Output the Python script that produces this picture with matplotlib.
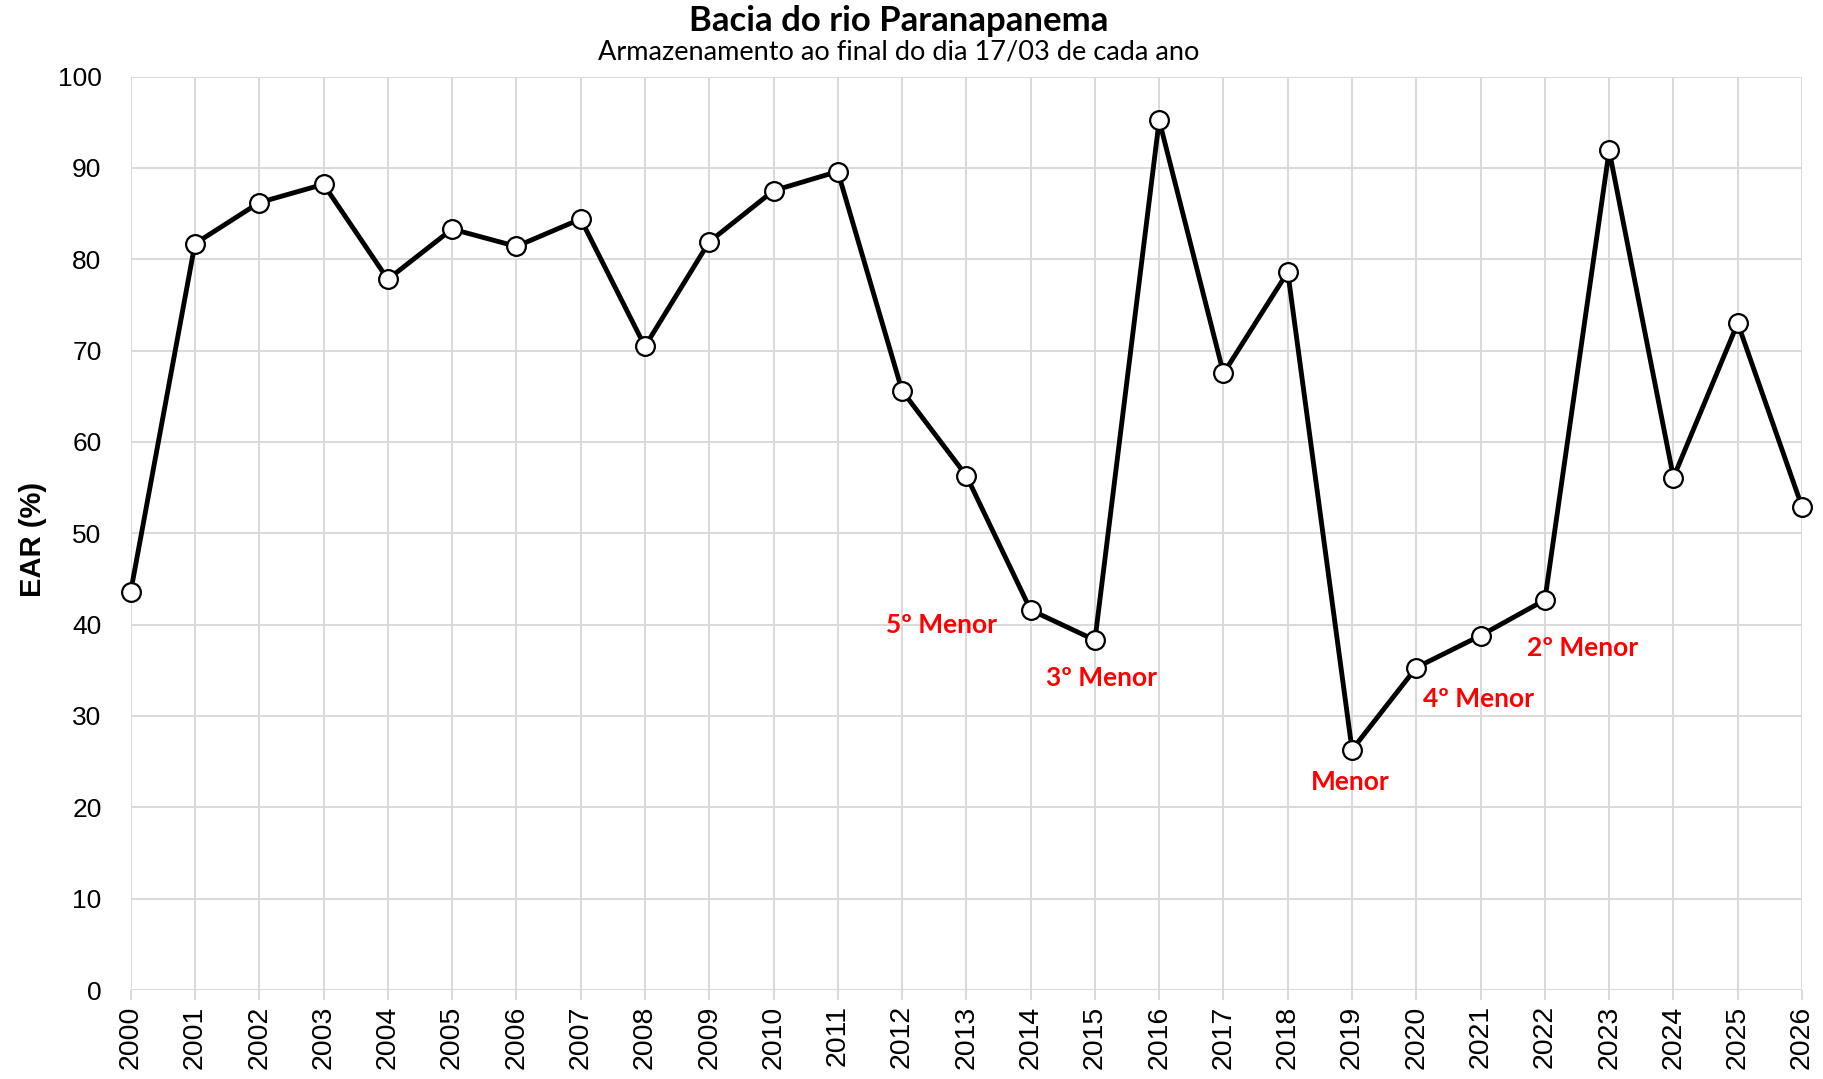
import matplotlib
matplotlib.use("Agg")
import matplotlib.pyplot as plt

years = list(range(2000, 2027))
ear = [43.6, 81.7, 86.2, 88.2, 77.8, 83.3, 81.4, 84.4, 70.45, 81.9, 87.5, 89.6,
       65.6, 56.3, 41.6, 38.3, 95.2, 67.5, 78.6, 26.3, 35.3, 38.8, 42.7, 91.9,
       56.1, 73.0, 52.9]

ann_text = ["5º Menor", "3º Menor", "Menor", "4º Menor", "2º Menor"]
ann_x = [2012.62, 2015.1, 2018.98, 2020.96, 2022.58]
ann_y = [40.0, 34.1, 22.8, 31.9, 37.4]

title = "Bacia do rio Paranapanema"
subtitle = "Armazenamento ao final do dia 17/03 de cada ano"
ylabel = "EAR (%)"

fig = plt.figure(figsize=(18.24, 10.79), dpi=100)
ax = fig.add_axes([130.7/1824, 1 - 990/1079, (1802-130.7)/1824, (990-76.5)/1079])

ax.plot(years, ear, color="black", lw=3.5, marker="o", markersize=13.5,
        markerfacecolor="white", markeredgecolor="black", markeredgewidth=1.6,
        clip_on=False, zorder=3)

for t, x, y in zip(ann_text, ann_x, ann_y):
    ax.text(x, y, t, color="#ff0000", fontsize=19, fontweight="bold",
            family="Lato", ha="center", va="center", zorder=4)

ax.set_xlim(2000, 2026)
ax.set_ylim(0, 100)
ax.set_xticks(years)
ax.set_xticklabels([str(y) for y in years], rotation=90, fontsize=20.5,
                   family="Liberation Sans")
ax.set_yticks(range(0, 101, 10))
ax.set_yticklabels([str(v) for v in range(0, 101, 10)], fontsize=19,
                   family="Liberation Sans")
ax.grid(True, color="#d9d9d9", lw=1.4, zorder=0)
ax.set_axisbelow(True)
for s in ax.spines.values():
    s.set_visible(False)
ax.tick_params(axis="x", length=7, width=1.4, color="#d9d9d9", pad=4)
ax.tick_params(axis="y", length=0, pad=21)

ax.set_ylabel(ylabel, fontsize=21, fontweight="bold", family="Liberation Sans")
ax.yaxis.set_label_coords(33/1824, 0.5, transform=fig.transFigure)
ax.yaxis.label.set_va("center")

fig.text(0.4925, 1 - 21/1079, title, ha="center", va="center", fontsize=25,
         fontweight="bold", family="Lato")
fig.text(0.4925, 1 - 52/1079, subtitle, ha="center", va="center", fontsize=19.5,
         family="Lato")

fig.savefig("out.png", dpi=100)
